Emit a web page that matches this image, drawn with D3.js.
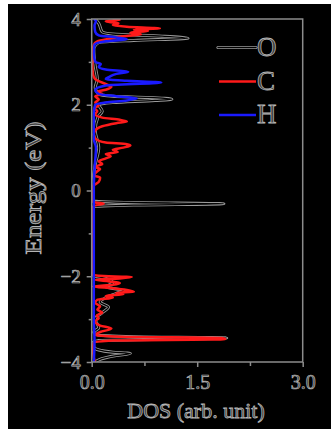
<!DOCTYPE html>
<html>
<head>
<meta charset="utf-8">
<script src="https://cdn.jsdelivr.net/npm/d3@7"></script>
<style>
  html, body { margin: 0; padding: 0; background: #fff; }
  svg { display: block; }
  .axis text { font-family: "Liberation Serif", "Times New Roman", serif; fill: #3a3a3a; stroke: #b4b4b4; stroke-width: 0.7px; }
  .axis line, .axis path { stroke: #8c8c8c; stroke-width: 1.5px; }
  .title { font-family: "Liberation Serif", "Times New Roman", serif; fill: #3a3a3a; stroke: #b4b4b4; stroke-width: 0.8px; }
</style>
</head>
<body>
<svg id="chart"></svg>
<script>
// energy (eV), DOS (arb. unit)
const oDos = [
  [-4.0, 0.05], [-3.95, 0.1], [-3.9, 0.2], [-3.85, 0.35], [-3.8, 0.55], [-3.77, 0.3], [-3.72, 0.1],
  [-3.65, 0.03], [-3.55, 0.02], [-3.5, 0.1], [-3.47, 1.0], [-3.44, 1.92], [-3.41, 0.6], [-3.37, 0.08],
  [-3.3, 0.03], [-3.2, 0.1], [-3.0, 0.05], [-2.85, 0.15], [-2.72, 0.24], [-2.6, 0.12], [-2.5, 0.2],
  [-2.4, 0.35], [-2.33, 0.45], [-2.25, 0.2], [-2.15, 0.3], [-2.05, 0.2], [-1.98, 0.02], [-1.5, 0.01],
  [-0.5, 0.01], [-0.38, 0.02], [-0.34, 0.6], [-0.31, 1.88], [-0.28, 0.6], [-0.24, 0.02], [0.2, 0.02],
  [0.6, 0.05], [1.0, 0.1], [1.4, 0.05], [1.72, 0.09], [1.85, 0.15], [2.0, 0.1], [2.05, 0.3],
  [2.1, 0.9], [2.13, 1.14], [2.17, 0.8], [2.2, 0.3], [2.25, 0.1], [2.4, 0.05], [2.6, 0.08],
  [2.9, 0.05], [3.3, 0.03], [3.45, 0.1], [3.5, 0.6], [3.55, 1.37], [3.6, 1.0], [3.65, 0.3],
  [3.7, 0.15], [3.9, 0.1], [4.0, 0.05]
];

const cDos = [
  [-4.0, 0.05], [-3.9, 0.03], [-3.7, 0.02], [-3.55, 0.03], [-3.5, 0.3], [-3.47, 1.9], [-3.44, 1.85],
  [-3.41, 0.4], [-3.37, 0.05], [-3.3, 0.12], [-3.22, 0.28], [-3.15, 0.12], [-3.05, 0.05], [-2.98, 0.1],
  [-2.92, 0.07], [-2.85, 0.15], [-2.78, 0.08], [-2.7, 0.12], [-2.62, 0.05], [-2.55, 0.08], [-2.5, 0.3],
  [-2.46, 0.2], [-2.42, 0.45], [-2.39, 0.35], [-2.36, 0.6], [-2.32, 0.5], [-2.28, 0.3], [-2.24, 0.02],
  [-2.2, 0.3], [-2.16, 0.4], [-2.12, 0.25], [-2.08, 0.05], [-2.05, 0.4], [-2.02, 0.57], [-1.99, 0.1],
  [-1.96, 0.01], [-1.5, 0.005], [-0.4, 0.01], [-0.33, 0.1], [-0.31, 0.17], [-0.28, 0.05], [-0.25, 0.01],
  [0.1, 0.02], [0.2, 0.1], [0.3, 0.12], [0.35, 0.03], [0.45, 0.08], [0.5, 0.12], [0.55, 0.05],
  [0.62, 0.15], [0.68, 0.1], [0.75, 0.2], [0.8, 0.27], [0.85, 0.2], [0.9, 0.37], [0.95, 0.3],
  [1.0, 0.45], [1.05, 0.55], [1.08, 0.5], [1.12, 0.2], [1.2, 0.06], [1.3, 0.03], [1.4, 0.05],
  [1.5, 0.15], [1.57, 0.35], [1.61, 0.5], [1.65, 0.4], [1.7, 0.15], [1.78, 0.05], [1.85, 0.08],
  [1.92, 0.04], [1.98, 0.1], [2.05, 0.05], [2.12, 0.1], [2.2, 0.05], [2.25, 0.15], [2.3, 0.08],
  [2.35, 0.2], [2.42, 0.28], [2.47, 0.22], [2.55, 0.1], [2.6, 0.05], [2.7, 0.02], [2.9, 0.01],
  [3.2, 0.01], [3.4, 0.03], [3.48, 0.08], [3.55, 0.3], [3.6, 0.45], [3.64, 0.7], [3.68, 0.55],
  [3.72, 0.8], [3.75, 0.6], [3.78, 0.97], [3.82, 0.5], [3.86, 0.3], [3.9, 0.38], [3.93, 0.25],
  [3.95, 0.2], [3.98, 0.4], [4.0, 0.3]
];

const hDos = [
  [-4.0, 0.03], [-3.5, 0.04], [-3.0, 0.03], [-2.0, 0.03], [-0.3, 0.03], [0.0, 0.03], [0.5, 0.04],
  [1.0, 0.06], [1.2, 0.03], [1.8, 0.03], [2.0, 0.05], [2.05, 0.2], [2.1, 0.5], [2.15, 0.64],
  [2.2, 0.35], [2.25, 0.1], [2.35, 0.05], [2.45, 0.2], [2.52, 0.99], [2.56, 0.5], [2.6, 0.2],
  [2.65, 0.25], [2.72, 0.35], [2.77, 0.52], [2.82, 0.2], [2.88, 0.1], [2.95, 0.13], [3.0, 0.05],
  [3.2, 0.03], [3.4, 0.04], [3.48, 0.2], [3.53, 0.5], [3.57, 0.35], [3.62, 0.1], [3.7, 0.05],
  [3.85, 0.04], [3.95, 0.06], [4.0, 0.03]
];

const species = ['O', 'C', 'H'];
const speciesColors = ['#000000', '#ff1a1a', '#1a1aff'];
const xMajorTicks = [0, 1.5, 3.0];
const xMinorTicks = [0.75, 2.25];
const yMajorTicks = [-4, -2, 0, 2, 4];
const yMinorTicks = [-3, -1, 1, 3];

const W = 331, H = 429;
const svg = d3.select('#chart').attr('width', W).attr('height', H);

// black panel (the picture has a thin white strip on top and left)
svg.append('rect').attr('x', 8).attr('y', 4).attr('width', W - 8).attr('height', H - 4).attr('fill', '#000');

const xScale = d3.scaleLinear().domain([0, 3]).range([91.7, 302.7]);
const yScale = d3.scaleLinear().domain([-4, 4]).range([362, 19]);

svg.append('clipPath').attr('id', 'plot-clip')
  .append('rect')
  .attr('x', xScale(0)).attr('y', yScale(4))
  .attr('width', xScale(3) - xScale(0)).attr('height', yScale(-4) - yScale(4));

const line = d3.line()
  .x(d => xScale(d[1]))
  .y(d => yScale(d[0]))
  .curve(d3.curveMonotoneY);

const plot = svg.append('g').attr('clip-path', 'url(#plot-clip)');

// O curve: black line with grey rim
plot.append('path').attr('d', line(oDos))
  .attr('fill', 'none').attr('stroke', '#9a9a9a').attr('stroke-width', 3).attr('stroke-linejoin', 'round');
plot.append('path').attr('d', line(oDos))
  .attr('fill', 'none').attr('stroke', '#000').attr('stroke-width', 1.3).attr('stroke-linejoin', 'round');
plot.append('path').attr('d', line(cDos))
  .attr('fill', 'none').attr('stroke', speciesColors[1]).attr('stroke-width', 2.5).attr('stroke-linejoin', 'round');
plot.append('path').attr('d', line(hDos))
  .attr('fill', 'none').attr('stroke', speciesColors[2]).attr('stroke-width', 2.5).attr('stroke-linejoin', 'round');

// frame
svg.append('rect')
  .attr('x', xScale(0)).attr('y', yScale(4))
  .attr('width', xScale(3) - xScale(0)).attr('height', yScale(-4) - yScale(4))
  .attr('fill', 'none').attr('stroke', '#8c8c8c').attr('stroke-width', 1.5);

// axes
const xAxisG = svg.append('g').attr('class', 'axis')
  .attr('transform', `translate(0,${yScale(-4)})`)
  .call(d3.axisBottom(xScale).tickValues(xMajorTicks).tickSize(5).tickPadding(8).tickFormat(d3.format('.1f')))
  .call(g => g.select('.domain').remove());
xAxisG.selectAll('text').style('font-size', '20px');
svg.append('g').attr('class', 'axis')
  .attr('transform', `translate(0,${yScale(-4)})`)
  .call(d3.axisBottom(xScale).tickValues(xMinorTicks).tickSize(4).tickFormat(''))
  .call(g => g.select('.domain').remove());

const yAxisG = svg.append('g').attr('class', 'axis')
  .attr('transform', `translate(${xScale(0)},0)`)
  .call(d3.axisLeft(yScale).tickValues(yMajorTicks).tickSize(5).tickPadding(6).tickFormat(d3.format('d')))
  .call(g => g.select('.domain').remove());
yAxisG.selectAll('text').style('font-size', '19px');
svg.append('g').attr('class', 'axis')
  .attr('transform', `translate(${xScale(0)},0)`)
  .call(d3.axisLeft(yScale).tickValues(yMinorTicks).tickSize(3).tickFormat(''))
  .call(g => g.select('.domain').remove());

// axis titles
svg.append('text').attr('class', 'title')
  .attr('x', 196).attr('y', 418)
  .attr('text-anchor', 'middle')
  .style('font-size', '22px')
  .text('DOS (arb. unit)');

svg.append('text').attr('class', 'title')
  .attr('transform', 'translate(41,188) rotate(-90)')
  .attr('text-anchor', 'middle')
  .attr('textLength', 133).attr('lengthAdjust', 'spacingAndGlyphs')
  .style('font-size', '24px')
  .text('Energy (eV)');

// legend
const legendY = [47.5, 81.5, 115];
const legend = svg.append('g');
species.forEach((s, i) => {
  if (i === 0) {
    legend.append('line')
      .attr('x1', 218).attr('x2', 256).attr('y1', legendY[i]).attr('y2', legendY[i])
      .attr('stroke', '#9a9a9a').attr('stroke-width', 3.2).attr('stroke-linecap', 'round');
    legend.append('line')
      .attr('x1', 218).attr('x2', 256).attr('y1', legendY[i]).attr('y2', legendY[i])
      .attr('stroke', '#000').attr('stroke-width', 1.4).attr('stroke-linecap', 'round');
  } else {
    legend.append('line')
      .attr('x1', 219).attr('x2', 256).attr('y1', legendY[i]).attr('y2', legendY[i])
      .attr('stroke', speciesColors[i]).attr('stroke-width', 2.4);
  }
  legend.append('text').attr('class', 'title')
    .attr('x', 257).attr('y', legendY[i] + 8)
    .style('font-size', '27px')
    .text(s);
});
</script>
</body>
</html>
